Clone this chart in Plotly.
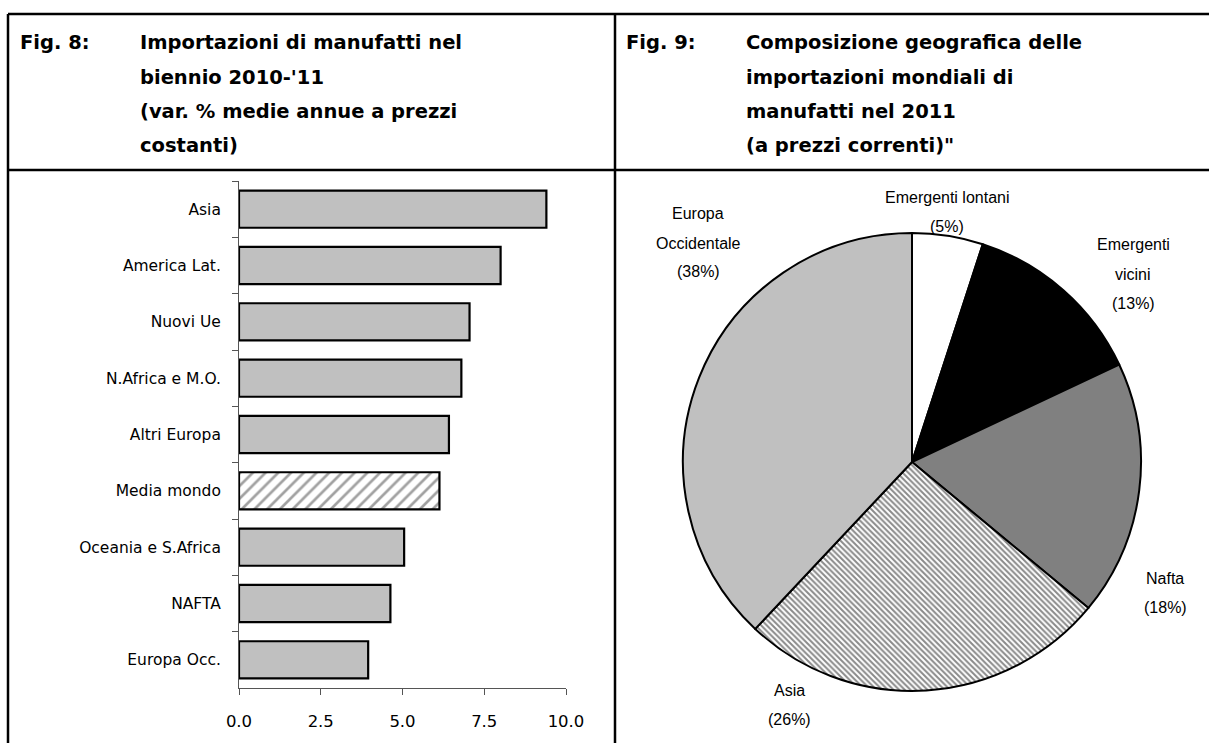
import plotly.graph_objects as go

W, H = 1209, 743

# ---- data ----
bar_categories = ["Asia", "America Lat.", "Nuovi Ue", "N.Africa e M.O.", "Altri Europa",
                  "Media mondo", "Oceania e S.Africa", "NAFTA", "Europa Occ."]
bar_values = [9.4, 8.0, 7.05, 6.8, 6.42, 6.13, 5.05, 4.63, 3.95]
x_tick_vals = [0, 2.5, 5, 7.5, 10]
x_tick_text = ["0.0", "2.5", "5.0", "7.5", "10.0"]

pie_labels = ["Emergenti lontani", "Emergenti vicini", "Nafta", "Asia", "Europa Occidentale"]
pie_values = [5, 13, 18, 26, 38]
pie_label_lines = [["Emergenti lontani"], ["Emergenti", "vicini"], ["Nafta"], ["Asia"],
                   ["Europa", "Occidentale"]]

title8_lines = ["Importazioni di manufatti nel", "biennio 2010-'11",
                "(var. % medie annue a prezzi", "costanti)"]
title9_lines = ["Composizione geografica delle", "importazioni mondiali di",
                "manufatti nel 2011", "(a prezzi correnti)\""]


def px(x):
    return x / W


def py(y):
    return 1 - y / H


fig = go.Figure()

# ---- bar chart ----
highlight = "Media mondo"
fig.add_trace(go.Bar(
    x=bar_values, y=bar_categories, orientation="h",
    width=0.66,
    marker=dict(
        color=["white" if c == highlight else "#C0C0C0" for c in bar_categories],
        line=dict(color="black", width=2.2),
        pattern=dict(
            shape=["/" if c == highlight else "" for c in bar_categories],
            fgcolor="#C0C0C0", size=9, solidity=0.3, fillmode="overlay",
        ),
    ),
    hoverinfo="skip", showlegend=False,
))

fig.update_layout(
    xaxis=dict(domain=[px(239), px(566)], range=[0, 10], tickvals=x_tick_vals,
               ticktext=x_tick_text, showgrid=False, zeroline=False, showline=True,
               linecolor="#555555", linewidth=1, ticks="outside", ticklen=6,
               tickcolor="#555555", ticklabelstandoff=12, automargin=False,
               tickfont=dict(family="DejaVu Sans", size=16.5, color="black"),
               anchor="y", fixedrange=True),
    yaxis=dict(domain=[py(688), py(181)], autorange="reversed", type="category",
               showgrid=False, zeroline=False, showline=True, linecolor="#555555",
               linewidth=1, ticks="outside", ticklen=6, tickcolor="#555555",
               tickson="boundaries", ticklabelstandoff=14, automargin=False,
               tickfont=dict(family="DejaVu Sans", size=15.5, color="black"),
               anchor="x", fixedrange=True),
)

# ---- pie chart ----
pie_colors = ["white", "black", "#808080", "white", "#C0C0C0"]
fig.add_trace(go.Pie(
    labels=pie_labels, values=pie_values, sort=False, direction="clockwise",
    rotation=0, textinfo="none", hoverinfo="skip", showlegend=False, automargin=False,
    marker=dict(colors=pie_colors, line=dict(color="black", width=2),
                pattern=dict(shape=["", "", "", "\\", ""], fgcolor="#8A8A8A",
                             bgcolor="white", size=4, solidity=0.5)),
    domain=dict(x=[px(683), px(1141)], y=[py(691), py(233)]),
))

annotations = []
# pie label positions (center x, first line y) in pixels
pie_label_pos = [(947, 197), (1133, 245), (1165, 578), (790, 690), (698, 214)]
total = sum(pie_values)
for lines, v, (cx, cy) in zip(pie_label_lines, pie_values, pie_label_pos):
    all_lines = lines + [f"({round(100 * v / total)}%)"]
    for i, t in enumerate(all_lines):
        annotations.append(dict(
            x=px(cx), y=py(cy + i * 29), xref="paper", yref="paper", text=t,
            showarrow=False, xanchor="center", yanchor="middle",
            font=dict(family="Liberation Sans", size=16, color="black")))

# ---- titles ----
title_y = [43, 78, 112, 146]
for fig_label, lines, x0, x1 in [("Fig. 8:", title8_lines, 18, 138),
                                 ("Fig. 9:", title9_lines, 624, 744)]:
    annotations.append(dict(
        x=px(x0), y=py(title_y[0]), xref="paper", yref="paper", text="<b>" + fig_label + "</b>",
        showarrow=False, xanchor="left", yanchor="middle",
        font=dict(family="DejaVu Sans", size=19.5, color="black")))
    for t, yy in zip(lines, title_y):
        annotations.append(dict(
            x=px(x1), y=py(yy), xref="paper", yref="paper", text="<b>" + t + "</b>",
            showarrow=False, xanchor="left", yanchor="middle",
            font=dict(family="DejaVu Sans", size=19.5, color="black")))

# ---- frame lines ----
frame = dict(color="black", width=2.5)
shapes = [
    dict(type="line", xref="paper", yref="paper", x0=px(8), x1=1, y0=py(14), y1=py(14), line=frame),
    dict(type="line", xref="paper", yref="paper", x0=px(8), x1=1, y0=py(170), y1=py(170), line=frame),
    dict(type="line", xref="paper", yref="paper", x0=px(8), x1=px(8), y0=py(14), y1=0, line=frame),
    dict(type="line", xref="paper", yref="paper", x0=px(615), x1=px(615), y0=py(14), y1=0, line=frame),
]

fig.update_layout(
    template="none",
    width=W, height=H, margin=dict(l=0, r=0, t=0, b=0, pad=0, autoexpand=False),
    paper_bgcolor="white", plot_bgcolor="white",
    annotations=annotations, shapes=shapes, showlegend=False,
)

fig.write_html(
    "out.html", config={"displayModeBar": False},
    post_script="document.body.style.margin='0';document.body.style.overflow='hidden';",
)
